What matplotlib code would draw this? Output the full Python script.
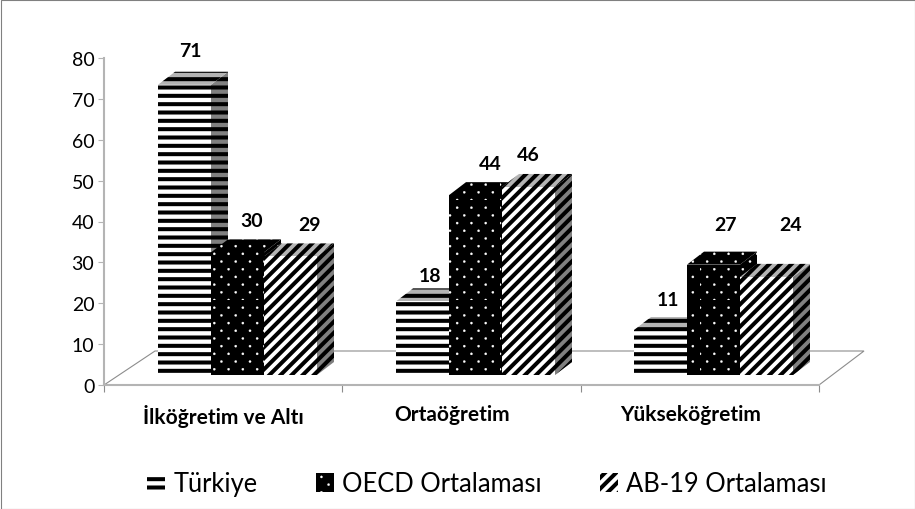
import matplotlib
matplotlib.use("Agg")
import matplotlib.pyplot as plt
import matplotlib.hatch as mhatch
from matplotlib.patches import Polygon, Patch
from matplotlib.path import Path

plt.rcParams["font.family"] = ["Lato", "DejaVu Sans"]

# --- Data ---
categories = ["İlköğretim ve Altı", "Ortaöğretim", "Yükseköğretim"]
series_names = ["Türkiye", "OECD Ortalaması", "AB-19 Ortalaması"]
turkiye = [71, 18, 11]
oecd = [30, 44, 27]
ab19 = [29, 46, 24]
yticks = [0, 10, 20, 30, 40, 50, 60, 70, 80]


# '.' hatch replaced: staggered dots, wide apart in x, close in y (like the Excel pattern)
class StaggeredDots(mhatch.HatchPatternBase):
    filled = True

    def __init__(self, hatch, density):
        self.num_vertices = 0
        if "." not in hatch:
            return
        self.centers = [((c + 0.5 * (r % 2)) / 7, r / 13) for r in range(13) for c in range(7)]
        self.circle = Path.unit_circle()
        self.num_vertices = len(self.centers) * len(self.circle.vertices)

    def set_vertices_and_codes(self, vertices, codes):
        n = len(self.circle.vertices)
        for i, (cx, cy) in enumerate(self.centers):
            vertices[i * n:(i + 1) * n] = self.circle.vertices * 0.011 + (cx, cy)
            codes[i * n:(i + 1) * n] = self.circle.codes


mhatch._hatch_types = [t for t in mhatch._hatch_types if t is not mhatch.SmallFilledCircles] + [StaggeredDots]

# --- Layout (3d look, in data units) ---
W, H = 915, 510
left, right, top, bottom = 104, 819, 59, 386
px_x = 3 / (right - left)
px_y = 80 / (bottom - top)
bar_w = 53 * px_x
depth_x = 17 * px_x
depth_y = 13 * px_y
lift = 10 * px_y
group_start = 54 * px_x
group_step = 238 * px_x

# front, side, top colours + hatch colour, hatch, hatch linewidth
styles = [
    {"front": "white", "side": "#808080", "top": "#b4b4b4", "ink": "black", "hatch": "--", "lw": 2.9},
    {"front": "black", "side": "black", "top": "black", "ink": "white", "hatch": ".", "lw": 0.2},
    {"front": "white", "side": "#808080", "top": "#b4b4b4", "ink": "black", "hatch": "///", "lw": 2.9},
]
# label shift from bar centre (px) and height above the bar top (px)
label_dx = [[6, 14, 19], [8, 15, 0], [8, 12, 24]]
label_dy = [[34, 32, 32], [26, 32, 32], [31, 40, 52]]

fig = plt.figure(figsize=(W / 100, H / 100), dpi=100, facecolor="white")
ax = fig.add_axes([left / W, 1 - bottom / H, (right - left) / W, (bottom - top) / H])
ax.set_xlim(0, 3)
ax.set_ylim(0, 80)
ax.patch.set_alpha(0)

# outer frame
fig.add_artist(plt.Rectangle((0.5 / W, 0.5 / H), (W - 1) / W, (H - 1.5) / H, transform=fig.transFigure,
                             fc="none", ec="#808080", lw=0.8))

# floor
floor = Polygon([(0, 0), (51 * px_x, 34 * px_y), (3 + 45 * px_x, 34 * px_y), (3, 0)],
                closed=True, fc="none", ec="#8c8c8c", lw=0.8, clip_on=False, zorder=1)
ax.add_patch(floor)


def face(points, fc, st):
    plt.rcParams["hatch.linewidth"] = st["lw"]
    ax.add_patch(Polygon(points, closed=True, fc=fc, ec=st["ink"], lw=0,
                         hatch=st["hatch"], clip_on=False, zorder=3))


# --- Bars ---
for s, values in enumerate([turkiye, oecd, ab19]):
    st = styles[s]
    for g, v in enumerate(values):
        x0 = g * group_step + group_start + s * bar_w
        x1 = x0 + bar_w
        y0 = lift
        y1 = lift + v
        face([(x1, y0), (x1 + depth_x, y0 + depth_y), (x1 + depth_x, y1 + depth_y), (x1, y1)], st["side"], st)
        face([(x0, y1), (x1, y1), (x1 + depth_x, y1 + depth_y), (x0 + depth_x, y1 + depth_y)], st["top"], st)
        face([(x0, y0), (x1, y0), (x1, y1), (x0, y1)], st["front"], st)
        ax.text((x0 + x1) / 2 + label_dx[g][s] * px_x, y1 + label_dy[g][s] * px_y, str(v),
                ha="center", va="center", fontsize=14, fontweight="bold", color="black", zorder=5)

# --- Axes ---
for name in ["top", "right"]:
    ax.spines[name].set_visible(False)
for name in ["left", "bottom"]:
    ax.spines[name].set_color("#b4b4b4")
    ax.spines[name].set_linewidth(1.5)
ax.set_yticks(yticks)
ax.tick_params(axis="y", labelsize=14, length=4, color="#b4b4b4", pad=3, labelcolor="black")
ax.set_xticks([0, 1, 2, 3])
ax.set_xticklabels([])
ax.tick_params(axis="x", length=5, color="#8c8c8c")
ax.set_xticks([0.5, 1.46, 2.46], minor=True)
ax.set_xticklabels(categories, minor=True, fontsize=15, fontweight="bold")
ax.tick_params(axis="x", which="minor", length=0, pad=14)

# --- Legend ---
handles = [Patch(fc=st["front"], ec=st["ink"], lw=0, hatch=st["hatch"], label=name)
           for st, name in zip(styles, series_names)]
leg = fig.legend(handles=handles, loc="center", bbox_to_anchor=(487 / W, 1 - 485 / H), ncol=3,
                 frameon=False, fontsize=18.4, handlelength=0.72, handleheight=0.72,
                 columnspacing=2.27, handletextpad=0.32, borderpad=0)
# legend makes its own patches, so the hatch width has to go on them afterwards
for p, st in zip(leg.get_patches(), styles):
    p.set_hatch_linewidth(st["lw"])

fig.savefig("out.png", dpi=100, facecolor="white")
